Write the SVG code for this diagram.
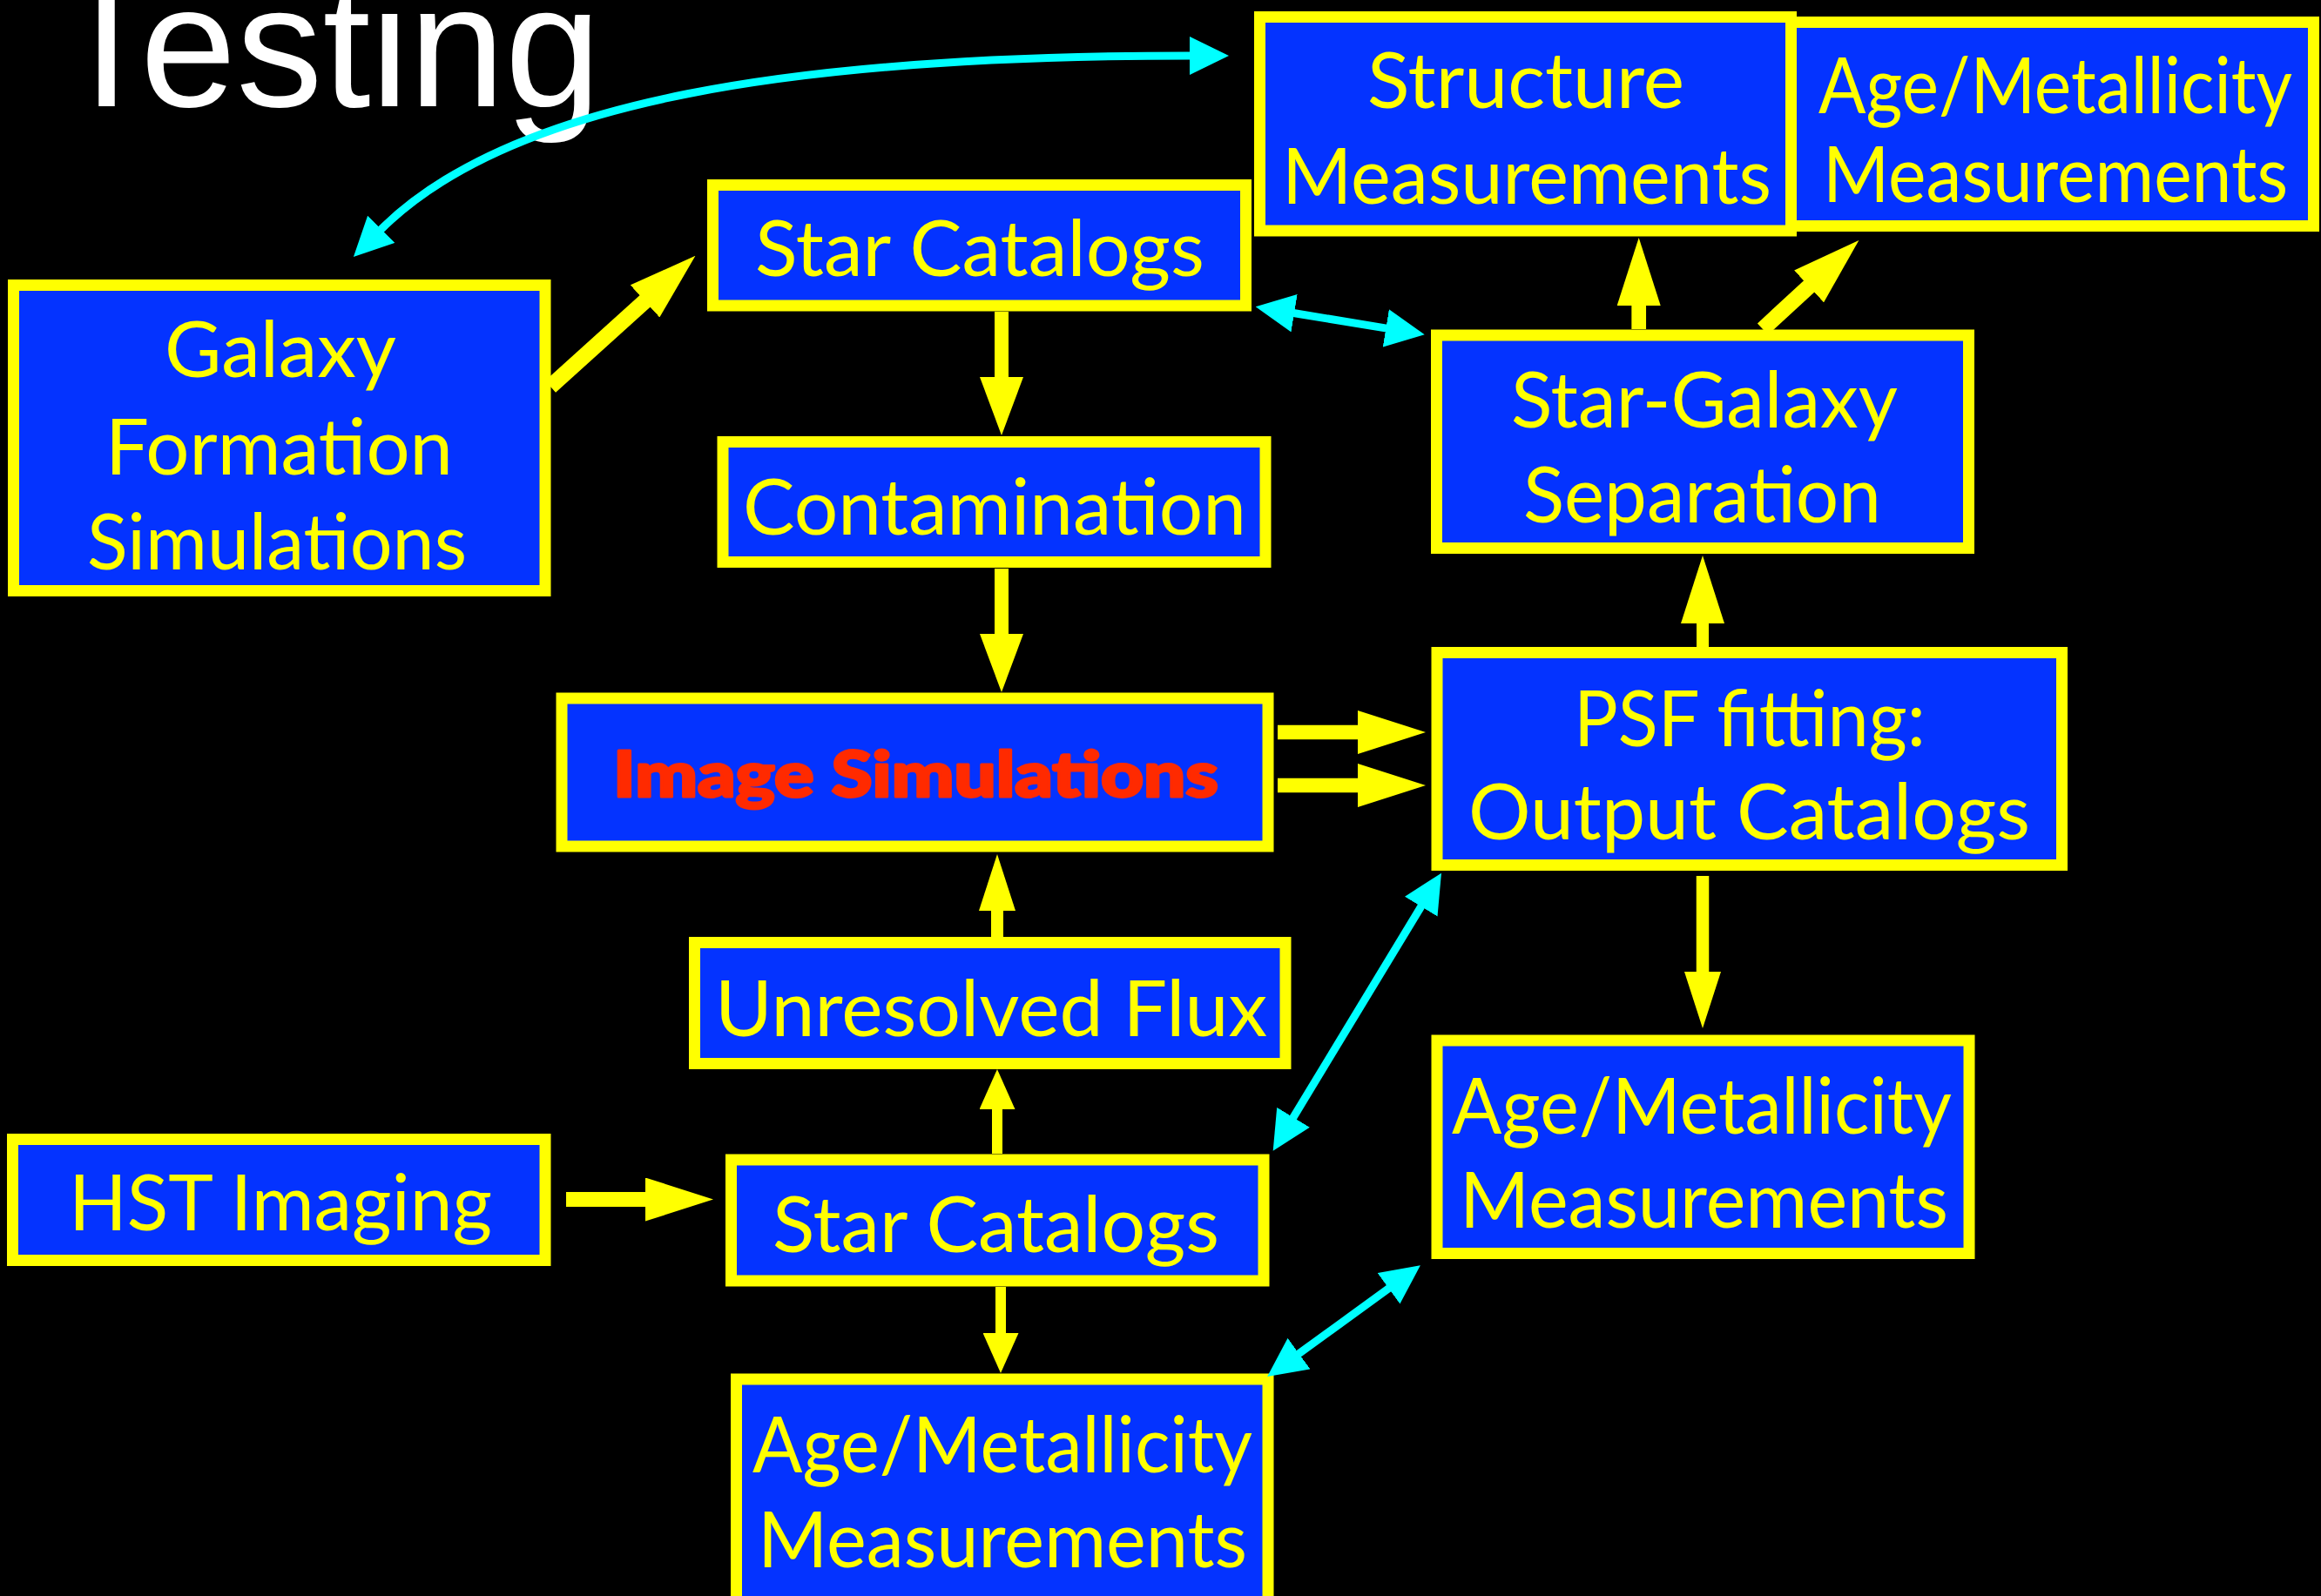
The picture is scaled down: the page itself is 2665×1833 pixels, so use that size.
<svg xmlns="http://www.w3.org/2000/svg" width="2665" height="1833" viewBox="0 0 2665 1833">
<style>
.box{fill:#0433FF;stroke:#FFFF00;stroke-width:13}
.t{font-family:Lato,"Open Sans","DejaVu Sans",sans-serif;font-size:90px;fill:#FFFF00;text-anchor:middle}
.red{font-size:72px;font-weight:900;fill:#FF2A00;stroke:#FF2A00;stroke-width:3;stroke-linejoin:round}
.ya{stroke:#FFFF00;fill:none}
.ca{stroke:#00FFFF;fill:none;stroke-width:9}
</style>
<defs>
<marker id="mBig" viewBox="0 0 78 50" markerWidth="78" markerHeight="50" refX="1" refY="25" orient="auto" markerUnits="userSpaceOnUse"><path d="M0,0 L78,25 L0,50 Z" fill="#FFFF00"/></marker>
<marker id="mMed" viewBox="0 0 67 50" markerWidth="67" markerHeight="50" refX="1" refY="25" orient="auto" markerUnits="userSpaceOnUse"><path d="M0,0 L67,25 L0,50 Z" fill="#FFFF00"/></marker>
<marker id="mMedN" viewBox="0 0 65 42" markerWidth="65" markerHeight="42" refX="1" refY="21" orient="auto" markerUnits="userSpaceOnUse"><path d="M0,0 L65,21 L0,42 Z" fill="#FFFF00"/></marker>
<marker id="mSmall" viewBox="0 0 46 41" markerWidth="46" markerHeight="41" refX="1" refY="20.5" orient="auto" markerUnits="userSpaceOnUse"><path d="M0,0 L46,20.5 L0,41 Z" fill="#FFFF00"/></marker>
<marker id="mCyan" viewBox="0 0 45 44" markerWidth="45" markerHeight="44" refX="1" refY="22" orient="auto-start-reverse" markerUnits="userSpaceOnUse"><path d="M0,0 L45,22 L0,44 Z" fill="#00FFFF"/></marker>
</defs>
<rect x="0" y="0" width="2665" height="1833" fill="#000000"/>
<text x="62" y="122" font-family="'Liberation Sans',Arial,sans-serif" font-size="200" fill="#FFFFFF" textLength="628" lengthAdjust="spacingAndGlyphs">Testing</text>

<g id="galaxy-formation">
<rect class="box" x="15.5" y="327.5" width="610.5" height="351"/>
<text class="t" x="322" y="433" textLength="266" lengthAdjust="spacingAndGlyphs">Galaxy</text>
<text class="t" x="320.5" y="545" textLength="399" lengthAdjust="spacingAndGlyphs">Formation</text>
<text class="t" x="318" y="654" textLength="436" lengthAdjust="spacingAndGlyphs">Simulations</text>
</g>
<g id="star-catalogs-top">
<rect class="box" x="818.5" y="212.5" width="612" height="138.5"/>
<text class="t" x="1125" y="317" textLength="516" lengthAdjust="spacingAndGlyphs">Star Catalogs</text>
</g>
<g id="contamination">
<rect class="box" x="830" y="507.5" width="623" height="138"/>
<text class="t" x="1142" y="614" textLength="578" lengthAdjust="spacingAndGlyphs">Contamination</text>
</g>
<g id="age-metallicity-top">
<rect class="box" x="2055.5" y="25.5" width="601" height="234"/>
<text class="t" x="2360" y="129.5" textLength="544" lengthAdjust="spacingAndGlyphs">Age/Metallicity</text>
<text class="t" x="2360" y="232" textLength="534" lengthAdjust="spacingAndGlyphs">Measurements</text>
</g>
<g id="structure">
<rect class="box" x="1446.5" y="19.5" width="610" height="245.5"/>
<text class="t" x="1752" y="124" textLength="364" lengthAdjust="spacingAndGlyphs">Structure</text>
<text class="t" x="1753" y="234" textLength="562" lengthAdjust="spacingAndGlyphs">Measurements</text>
</g>
<g id="star-galaxy">
<rect class="box" x="1649.5" y="385" width="611" height="244.5"/>
<text class="t" x="1957" y="491" textLength="444" lengthAdjust="spacingAndGlyphs">Star-Galaxy</text>
<text class="t" x="1954.5" y="600" textLength="411" lengthAdjust="spacingAndGlyphs">Separation</text>
</g>
<g id="psf-fitting">
<rect class="box" x="1650" y="749.5" width="717.5" height="244"/>
<text class="t" x="2009" y="857" textLength="404" lengthAdjust="spacingAndGlyphs">PSF fitting:</text>
<text class="t" x="2008.5" y="964" textLength="645" lengthAdjust="spacingAndGlyphs">Output Catalogs</text>
</g>
<g id="image-simulations">
<rect class="box" x="645" y="802" width="811" height="170"/>
<text class="t red" x="1051.5" y="915" textLength="695" lengthAdjust="spacingAndGlyphs">Image Simulations</text>
</g>
<g id="age-metallicity-right">
<rect class="box" x="1650" y="1195" width="611" height="244.5"/>
<text class="t" x="1954" y="1302" textLength="574" lengthAdjust="spacingAndGlyphs">Age/Metallicity</text>
<text class="t" x="1956.5" y="1410" textLength="561" lengthAdjust="spacingAndGlyphs">Measurements</text>
</g>
<g id="unresolved-flux">
<rect class="box" x="797.5" y="1082.5" width="678.5" height="139"/>
<text class="t" x="1138" y="1190" textLength="634" lengthAdjust="spacingAndGlyphs">Unresolved Flux</text>
</g>
<g id="hst-imaging">
<rect class="box" x="14.5" y="1308.5" width="611.5" height="139"/>
<text class="t" x="322" y="1413" textLength="486" lengthAdjust="spacingAndGlyphs">HST Imaging</text>
</g>
<g id="star-catalogs-bottom">
<rect class="box" x="839.5" y="1332" width="611.5" height="139"/>
<text class="t" x="1143.5" y="1438" textLength="513" lengthAdjust="spacingAndGlyphs">Star Catalogs</text>
</g>
<g id="age-metallicity-bottom">
<rect class="box" x="845.5" y="1584" width="610.5" height="270"/>
<text class="t" x="1151" y="1690.6" textLength="574" lengthAdjust="spacingAndGlyphs">Age/Metallicity</text>
<text class="t" x="1151" y="1799.5" textLength="562" lengthAdjust="spacingAndGlyphs">Measurements</text>
</g>

<g id="connectors">
<path class="ya" d="M632,444 L741.3,345.3" stroke-width="18" marker-end="url(#mBig)"/>
<path class="ya" d="M1150,358 L1150,434" stroke-width="16" marker-end="url(#mMed)"/>
<path class="ya" d="M1150,653 L1150,729" stroke-width="16" marker-end="url(#mMed)"/>
<path class="ya" d="M1145,1076 L1145,1045" stroke-width="14" marker-end="url(#mMedN)"/>
<path class="ya" d="M1145,1325 L1145,1273" stroke-width="12" marker-end="url(#mSmall)"/>
<path class="ya" d="M1149,1478 L1149,1532" stroke-width="12" marker-end="url(#mSmall)"/>
<path class="ya" d="M650,1377.5 L742,1377.5" stroke-width="17" marker-end="url(#mBig)"/>
<path class="ya" d="M1467,841 L1560,841" stroke-width="16.5" marker-end="url(#mBig)"/>
<path class="ya" d="M1467,902 L1560,902" stroke-width="16.5" marker-end="url(#mBig)"/>
<path class="ya" d="M1955,743 L1955,715" stroke-width="14" marker-end="url(#mBig)"/>
<path class="ya" d="M1955,1006 L1955,1117" stroke-width="14.5" marker-end="url(#mMedN)"/>
<path class="ya" d="M1881.7,378 L1881.7,350" stroke-width="16.7" marker-end="url(#mBig)"/>
<path class="ya" d="M2024,378 L2077.8,328.3" stroke-width="18" marker-end="url(#mBig)"/>
<path class="ca" d="M437,264 C587,114 917,64 1367,64" marker-start="url(#mCyan)" marker-end="url(#mCyan)"/>
<path class="ca" d="M1485.1,359.5 L1592.3,377.1" marker-start="url(#mCyan)" marker-end="url(#mCyan)"/>
<path class="ca" d="M1632.2,1040.3 L1484.5,1284.1" marker-start="url(#mCyan)" marker-end="url(#mCyan)"/>
<path class="ca" d="M1490.7,1555.2 L1595.3,1479.2" marker-start="url(#mCyan)" marker-end="url(#mCyan)"/>
</g>
</svg>
